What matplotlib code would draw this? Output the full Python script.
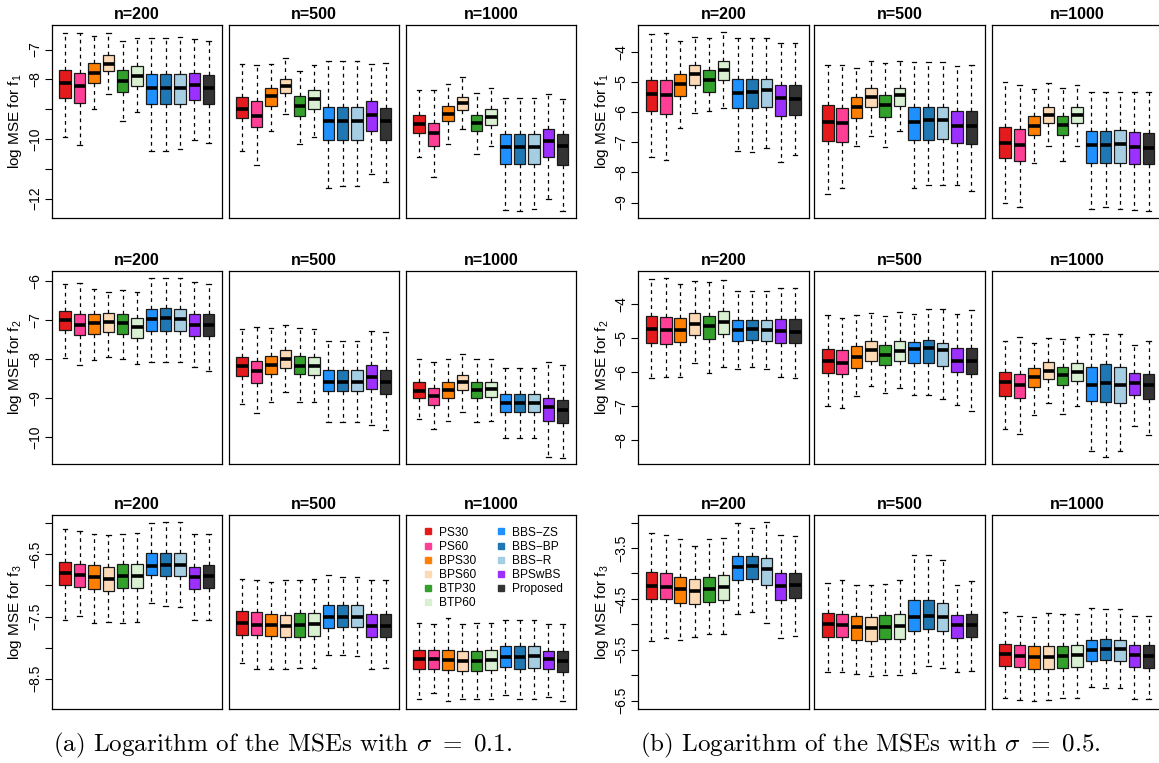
import matplotlib
matplotlib.use("Agg")
import matplotlib.pyplot as plt
from matplotlib.lines import Line2D

plt.rcParams['font.family'] = ['Liberation Sans', 'DejaVu Sans']

methods = ["PS30", "PS60", "BPS30", "BPS60", "BTP30", "BTP60",
           "BBS\u2212ZS", "BBS\u2212BP", "BBS\u2212R", "BPSwBS", "Proposed"]
colors = ["#E41A1C", "#FF3E96", "#FF7F00", "#FDD9B5", "#33A02C", "#D9F0D3",
          "#1E90FF", "#1F78B4", "#A6CEE3", "#9B30FF", "#333333"]
sample_sizes = ["n=200", "n=500", "n=1000"]

# each box: (lower whisker, Q1, median, Q3, upper whisker), one per method
# sigma = 0.1
s01_f1_n200 = [(-9.93, -8.61, -8.12, -7.70, -6.46), (-10.22, -8.80, -8.22, -7.80, -6.44),
               (-9.00, -8.11, -7.79, -7.46, -6.54), (-8.49, -7.73, -7.47, -7.20, -6.46),
               (-9.41, -8.42, -8.07, -7.70, -6.71), (-9.11, -8.21, -7.89, -7.56, -6.62),
               (-10.39, -8.84, -8.30, -7.82, -6.60), (-10.40, -8.84, -8.30, -7.82, -6.60),
               (-10.34, -8.84, -8.30, -7.82, -6.58), (-10.04, -8.70, -8.20, -7.79, -6.63),
               (-10.13, -8.82, -8.28, -7.87, -6.71)]
s01_f1_n500 = [(-10.39, -9.30, -8.99, -8.58, -7.49), (-10.89, -9.61, -9.22, -8.73, -7.51),
               (-9.74, -8.88, -8.56, -8.28, -7.49), (-9.17, -8.46, -8.24, -7.98, -7.27),
               (-10.17, -9.22, -8.88, -8.56, -7.73), (-9.93, -8.98, -8.66, -8.37, -7.53),
               (-11.64, -10.04, -9.40, -8.94, -7.39), (-11.57, -10.04, -9.40, -8.94, -7.39),
               (-11.57, -10.04, -9.40, -8.94, -7.39), (-11.18, -9.73, -9.20, -8.74, -7.47),
               (-11.46, -10.04, -9.40, -8.96, -7.44)]
s01_f1_n1000 = [(-10.59, -9.80, -9.49, -9.21, -8.37), (-11.29, -10.23, -9.80, -9.47, -8.36),
                (-10.18, -9.41, -9.16, -8.91, -8.17), (-9.67, -9.03, -8.81, -8.58, -7.92),
                (-10.52, -9.74, -9.45, -9.20, -8.45), (-10.25, -9.54, -9.27, -9.00, -8.28),
                (-12.39, -10.85, -10.26, -9.82, -8.64), (-12.41, -10.85, -10.26, -9.82, -8.64),
                (-12.34, -10.85, -10.26, -9.82, -8.64), (-12.01, -10.62, -10.06, -9.68, -8.49),
                (-12.41, -10.88, -10.24, -9.82, -8.65)]
s01_f2_n200 = [(-7.98, -7.26, -6.99, -6.76, -6.07), (-8.16, -7.38, -7.12, -6.85, -6.05),
               (-8.03, -7.36, -7.09, -6.86, -6.21), (-7.94, -7.30, -7.06, -6.82, -6.28),
               (-8.00, -7.35, -7.08, -6.85, -6.23), (-8.14, -7.46, -7.18, -6.94, -6.28),
               (-8.07, -7.28, -6.97, -6.71, -5.92), (-8.09, -7.28, -6.96, -6.70, -5.92),
               (-8.07, -7.28, -6.97, -6.71, -5.92), (-8.21, -7.42, -7.13, -6.86, -6.04),
               (-8.30, -7.42, -7.12, -6.84, -6.07)]
s01_f2_n500 = [(-9.16, -8.44, -8.19, -7.94, -7.24), (-9.38, -8.61, -8.32, -8.04, -7.18),
               (-9.10, -8.39, -8.15, -7.92, -7.22), (-8.84, -8.22, -7.99, -7.78, -7.14),
               (-9.09, -8.39, -8.17, -7.93, -7.22), (-9.09, -8.40, -8.19, -7.95, -7.24),
               (-9.62, -8.83, -8.58, -8.28, -7.53), (-9.62, -8.83, -8.58, -8.28, -7.53),
               (-9.62, -8.83, -8.58, -8.28, -7.53), (-9.68, -8.76, -8.45, -8.15, -7.29),
               (-9.81, -8.90, -8.58, -8.27, -7.31)]
s01_f2_n1000 = [(-9.55, -9.00, -8.81, -8.60, -7.99), (-9.80, -9.18, -8.95, -8.75, -8.09),
                (-9.60, -9.00, -8.79, -8.58, -8.00), (-9.36, -8.79, -8.60, -8.42, -7.88),
                (-9.61, -9.00, -8.79, -8.59, -8.00), (-9.59, -8.97, -8.76, -8.58, -8.00),
                (-10.02, -9.35, -9.12, -8.91, -8.23), (-10.03, -9.35, -9.12, -8.91, -8.23),
                (-10.02, -9.35, -9.13, -8.91, -8.23), (-10.50, -9.60, -9.23, -8.99, -8.09),
                (-10.53, -9.63, -9.30, -9.04, -8.15)]
s01_f3_n200 = [(-7.56, -7.00, -6.80, -6.62, -6.09), (-7.49, -7.02, -6.84, -6.65, -6.13),
               (-7.61, -7.06, -6.87, -6.68, -6.18), (-7.59, -7.09, -6.89, -6.70, -6.19),
               (-7.61, -7.05, -6.85, -6.66, -6.18), (-7.58, -7.05, -6.85, -6.66, -6.16),
               (-7.29, -6.84, -6.69, -6.48, -6.00), (-7.33, -6.85, -6.68, -6.48, -5.99),
               (-7.34, -6.85, -6.68, -6.48, -5.99), (-7.56, -7.06, -6.87, -6.70, -6.18),
               (-7.56, -7.04, -6.85, -6.67, -6.18)]
s01_f3_n500 = [(-8.25, -7.79, -7.61, -7.41, -6.90), (-8.35, -7.80, -7.63, -7.43, -6.91),
               (-8.34, -7.81, -7.64, -7.46, -6.94), (-8.34, -7.83, -7.65, -7.47, -6.92),
               (-8.33, -7.83, -7.64, -7.45, -6.91), (-8.32, -7.81, -7.62, -7.44, -6.90),
               (-8.11, -7.68, -7.50, -7.31, -6.84), (-8.12, -7.67, -7.50, -7.31, -6.87),
               (-8.14, -7.67, -7.50, -7.32, -6.87), (-8.35, -7.83, -7.65, -7.46, -6.92),
               (-8.32, -7.83, -7.65, -7.46, -6.92)]
s01_f3_n1000 = [(-8.83, -8.34, -8.18, -8.03, -7.60), (-8.73, -8.35, -8.18, -8.04, -7.62),
                (-8.85, -8.36, -8.20, -8.04, -7.53), (-8.83, -8.37, -8.21, -8.05, -7.62),
                (-8.83, -8.37, -8.21, -8.05, -7.61), (-8.83, -8.36, -8.20, -8.04, -7.61),
                (-8.76, -8.31, -8.15, -7.98, -7.56), (-8.83, -8.35, -8.15, -7.97, -7.56),
                (-8.83, -8.32, -8.14, -7.97, -7.56), (-8.79, -8.35, -8.19, -8.05, -7.62),
                (-8.85, -8.39, -8.22, -8.05, -7.62)]

# sigma = 0.5
s05_f1_n200 = [(-7.47, -5.96, -5.38, -4.92, -3.39), (-7.59, -6.06, -5.43, -4.94, -3.36),
               (-6.53, -5.46, -5.07, -4.72, -3.63), (-6.01, -5.08, -4.71, -4.43, -3.50),
               (-5.97, -5.32, -4.93, -4.59, -3.53), (-5.86, -4.93, -4.59, -4.29, -3.32),
               (-7.29, -5.87, -5.37, -4.90, -3.53), (-7.33, -5.87, -5.34, -4.90, -3.53),
               (-7.17, -5.81, -5.27, -4.88, -3.53), (-7.66, -6.12, -5.54, -5.09, -3.69),
               (-7.41, -6.09, -5.57, -5.09, -3.69)]
s05_f1_n500 = [(-8.70, -6.96, -6.33, -5.77, -4.41), (-8.53, -6.97, -6.36, -5.86, -4.44),
               (-7.13, -6.20, -5.83, -5.49, -4.51), (-6.78, -5.82, -5.48, -5.19, -4.31),
               (-7.14, -6.16, -5.76, -5.42, -4.36), (-6.61, -5.78, -5.44, -5.18, -4.28),
               (-8.52, -6.91, -6.31, -5.82, -4.32), (-8.42, -6.92, -6.27, -5.82, -4.32),
               (-8.42, -6.88, -6.27, -5.81, -4.32), (-8.42, -7.02, -6.44, -5.94, -4.46),
               (-8.63, -7.04, -6.44, -5.94, -4.44)]
s05_f1_n1000 = [(-9.03, -7.51, -7.02, -6.49, -5.00), (-9.14, -7.62, -7.09, -6.56, -5.10),
                (-7.69, -6.77, -6.44, -6.13, -5.21), (-7.11, -6.34, -6.10, -5.82, -5.04),
                (-7.63, -6.74, -6.43, -6.11, -5.20), (-7.11, -6.34, -6.09, -5.82, -5.08),
                (-9.21, -7.67, -7.08, -6.61, -5.34), (-9.14, -7.67, -7.08, -6.61, -5.34),
                (-9.23, -7.67, -7.04, -6.59, -5.34), (-9.24, -7.72, -7.16, -6.67, -5.34),
                (-9.27, -7.72, -7.19, -6.68, -5.34)]
s05_f2_n200 = [(-6.18, -5.14, -4.72, -4.36, -3.24), (-6.14, -5.16, -4.75, -4.38, -3.22),
               (-6.13, -5.12, -4.77, -4.40, -3.39), (-5.74, -4.91, -4.57, -4.26, -3.32),
               (-6.03, -5.02, -4.65, -4.36, -3.35), (-5.84, -4.87, -4.52, -4.21, -3.28),
               (-5.91, -5.07, -4.75, -4.47, -3.61), (-5.84, -5.04, -4.74, -4.45, -3.61),
               (-5.92, -5.07, -4.75, -4.47, -3.61), (-6.15, -5.15, -4.80, -4.43, -3.52),
               (-6.18, -5.15, -4.83, -4.43, -3.53)]
s05_f2_n500 = [(-7.01, -6.02, -5.68, -5.31, -4.31), (-7.05, -6.06, -5.72, -5.36, -4.40),
               (-6.70, -5.89, -5.56, -5.24, -4.32), (-6.40, -5.67, -5.36, -5.09, -4.26),
               (-6.61, -5.80, -5.49, -5.19, -4.34), (-6.48, -5.67, -5.38, -5.09, -4.24),
               (-6.67, -5.74, -5.31, -5.10, -4.30), (-6.68, -5.73, -5.29, -5.05, -4.13),
               (-6.78, -5.82, -5.36, -5.13, -4.13), (-6.96, -6.00, -5.66, -5.29, -4.28),
               (-7.14, -6.05, -5.66, -5.28, -4.17)]
s05_f2_n1000 = [(-7.67, -6.70, -6.30, -6.01, -5.07), (-7.83, -6.77, -6.37, -6.05, -4.97),
                (-7.25, -6.45, -6.15, -5.89, -5.13), (-6.92, -6.21, -5.96, -5.71, -5.00),
                (-7.22, -6.39, -6.08, -5.84, -5.02), (-7.00, -6.27, -5.99, -5.74, -4.97),
                (-8.33, -6.86, -6.37, -5.85, -4.89), (-8.50, -6.87, -6.33, -5.76, -4.87),
                (-8.33, -6.90, -6.37, -5.86, -4.89), (-7.60, -6.66, -6.31, -6.03, -5.19),
                (-7.85, -6.80, -6.39, -6.05, -5.07)]
s05_f3_n200 = [(-5.32, -4.51, -4.24, -3.97, -3.20), (-5.26, -4.51, -4.26, -3.99, -3.24),
               (-5.30, -4.58, -4.30, -4.07, -3.33), (-5.24, -4.61, -4.34, -4.10, -3.46),
               (-5.20, -4.57, -4.30, -4.07, -3.32), (-5.20, -4.53, -4.26, -4.03, -3.30),
               (-4.80, -4.13, -3.88, -3.66, -3.00), (-4.76, -4.11, -3.86, -3.66, -3.11),
               (-4.97, -4.22, -3.91, -3.70, -2.99), (-5.26, -4.52, -4.25, -4.00, -3.25),
               (-5.23, -4.48, -4.22, -3.99, -3.26)]
s05_f3_n500 = [(-5.93, -5.25, -5.00, -4.78, -4.19), (-5.93, -5.25, -5.02, -4.80, -4.13),
               (-5.97, -5.30, -5.05, -4.84, -4.22), (-6.01, -5.32, -5.07, -4.85, -4.22),
               (-6.00, -5.29, -5.05, -4.82, -4.20), (-5.99, -5.28, -5.03, -4.80, -4.13),
               (-5.95, -5.13, -4.86, -4.53, -3.64), (-5.82, -5.09, -4.84, -4.52, -3.64),
               (-5.86, -5.14, -4.86, -4.58, -3.74), (-5.94, -5.26, -5.02, -4.81, -4.22),
               (-5.91, -5.25, -5.02, -4.79, -4.14)]
s05_f3_n1000 = [(-6.45, -5.82, -5.58, -5.39, -4.76), (-6.49, -5.84, -5.62, -5.41, -4.83),
                (-6.51, -5.87, -5.64, -5.43, -4.86), (-6.48, -5.88, -5.65, -5.43, -4.78),
                (-6.45, -5.85, -5.63, -5.42, -4.80), (-6.45, -5.84, -5.61, -5.41, -4.80),
                (-6.24, -5.72, -5.51, -5.30, -4.68), (-6.25, -5.71, -5.48, -5.29, -4.70),
                (-6.26, -5.72, -5.49, -5.30, -4.70), (-6.47, -5.84, -5.61, -5.41, -4.84),
                (-6.47, -5.85, -5.63, -5.41, -4.84)]

s01_ylims = [(-12.66, -6.16), (-10.70, -5.74), (-8.98, -5.87)]
s01_ticks = [[-12, -11, -10, -9, -8, -7], [-10, -9, -8, -7, -6],
             [-8.5, -8, -7.5, -7, -6.5, -6]]
s01_ticklabels = [["\u221212", "", "\u221210", "", "\u22128", "\u22127"],
                  ["\u221210", "\u22129", "\u22128", "\u22127", "\u22126"],
                  ["\u22128.5", "", "\u22127.5", "", "\u22126.5", ""]]
s05_ylims = [(-9.52, -3.08), (-8.72, -3.01), (-6.66, -2.85)]
s05_ticks = [[-9, -8, -7, -6, -5, -4], [-8, -7, -6, -5, -4],
             [-6.5, -6, -5.5, -5, -4.5, -4, -3.5, -3]]
s05_ticklabels = [["\u22129", "\u22128", "\u22127", "\u22126", "\u22125", "\u22124"],
                  ["\u22128", "\u22127", "\u22126", "\u22125", "\u22124"],
                  ["\u22126.5", "", "\u22125.5", "", "\u22124.5", "", "\u22123.5", ""]]

ylabels = ["log MSE for f$\\mathregular{_1}$", "log MSE for f$\\mathregular{_2}$",
           "log MSE for f$\\mathregular{_3}$"]
captions = ["(a) Logarithm of the MSEs with $\\sigma\\ =\\ 0.1$.",
            "(b) Logarithm of the MSEs with $\\sigma\\ =\\ 0.5$."]

groups = [
    dict(data=[[s01_f1_n200, s01_f1_n500, s01_f1_n1000],
               [s01_f2_n200, s01_f2_n500, s01_f2_n1000],
               [s01_f3_n200, s01_f3_n500, s01_f3_n1000]],
         ylims=s01_ylims, ticks=s01_ticks, ticklabels=s01_ticklabels,
         lefts=[51.7, 228.7, 405.7], ylab_x=15, cap_x=53),
    dict(data=[[s05_f1_n200, s05_f1_n500, s05_f1_n1000],
               [s05_f2_n200, s05_f2_n500, s05_f2_n1000],
               [s05_f3_n200, s05_f3_n500, s05_f3_n1000]],
         ylims=s05_ylims, ticks=s05_ticks, ticklabels=s05_ticklabels,
         lefts=[638.0, 814.3, 991.7], ylab_x=602, cap_x=640),
]

W, H = 1159, 763
fig = plt.figure(figsize=(W / 100, H / 100), dpi=100)
row_tops = [24.5, 270.7, 515.0]
pw, ph = 170.5, 193.7
positions = list(range(1, len(methods) + 1))

for gi, g in enumerate(groups):
    for r in range(3):
        for c in range(3):
            ax = fig.add_axes([g['lefts'][c] / W, 1 - (row_tops[r] + ph) / H, pw / W, ph / H])
            stats = [dict(whislo=b[0], q1=b[1], med=b[2], q3=b[3], whishi=b[4], fliers=[])
                     for b in g['data'][r][c]]
            res = ax.bxp(stats, positions=positions, widths=0.8, patch_artist=True,
                         showfliers=False, capwidths=0.32,
                         boxprops=dict(edgecolor='#1a1a1a', linewidth=0.9),
                         whiskerprops=dict(color='black', linestyle=(0, (3, 3)), linewidth=0.9),
                         capprops=dict(color='black', linewidth=0.9),
                         medianprops=dict(color='black', linewidth=2.6, solid_capstyle='butt'))
            for patch, col in zip(res['boxes'], colors):
                patch.set_facecolor(col)
            ax.set_xlim(0.06, 11.94)
            ax.set_ylim(*g['ylims'][r])
            ax.set_xticks([])
            for sp in ax.spines.values():
                sp.set_linewidth(0.9)
            if c == 0:
                ax.set_yticks(g['ticks'][r])
                ax.set_yticklabels(g['ticklabels'][r], rotation=90, va='center')
                ax.tick_params(axis='y', length=5, width=0.8, labelsize=10, pad=2)
            else:
                ax.set_yticks([])
            ax.set_title(sample_sizes[c], fontsize=11.5, fontweight='bold', pad=4)
            if gi == 0 and r == 2 and c == 2:
                handles = [Line2D([], [], marker='s', linestyle='', markersize=4.8,
                                  markerfacecolor=col, markeredgecolor=col) for col in colors]
                ax.legend(handles, methods, ncol=2, loc='upper left', frameon=False,
                          fontsize=8.6, labelspacing=0.18, handlelength=0.8,
                          handletextpad=0.5, columnspacing=1.7,
                          bbox_to_anchor=(0.075, 0.965), borderaxespad=0.0)
        fig.text(g['ylab_x'] / W, 1 - (row_tops[r] + ph / 2) / H, ylabels[r],
                 rotation=90, ha='center', va='center', fontsize=11)
    fig.text(g['cap_x'] / W, 1 - 751 / H, captions[gi], ha='left', va='baseline',
             fontsize=18, family='cmr10', math_fontfamily='cm')

fig.savefig("out.png", dpi=100)
